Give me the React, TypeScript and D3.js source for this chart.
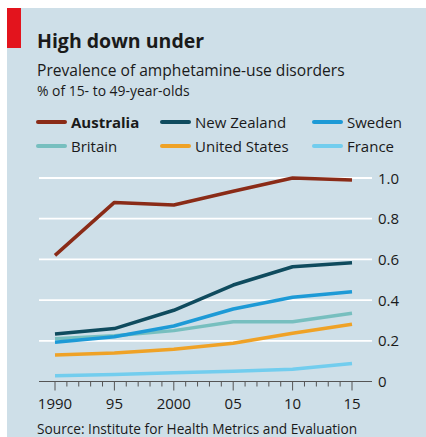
import React from "react";
import * as d3 from "d3";

const years = [1990, 1995, 2000, 2005, 2010, 2015];
const australia = [0.62, 0.88, 0.867, 0.935, 1.0, 0.99];
const newZealand = [0.233, 0.26, 0.35, 0.474, 0.564, 0.584];
const sweden = [0.193, 0.22, 0.273, 0.356, 0.414, 0.441];
const britain = [0.21, 0.225, 0.25, 0.294, 0.294, 0.335];
const unitedStates = [0.13, 0.14, 0.158, 0.188, 0.237, 0.281];
const france = [0.028, 0.035, 0.043, 0.05, 0.06, 0.089];
const yTicks = [0, 0.2, 0.4, 0.6, 0.8, 1.0];
const xTickLabels = ["1990", "95", "2000", "05", "10", "15"];

const series = [
  { name: "Australia", values: australia, color: "#8a2b17", bold: true },
  { name: "New Zealand", values: newZealand, color: "#0f4b5e", bold: false },
  { name: "Sweden", values: sweden, color: "#1d9ad6", bold: false },
  { name: "Britain", values: britain, color: "#77bfbf", bold: false },
  { name: "United States", values: unitedStates, color: "#efa226", bold: false },
  { name: "France", values: france, color: "#72cdee", bold: false },
];

const drawOrder = ["France", "United States", "Britain", "Sweden", "New Zealand", "Australia"];

export default function App() {
  const W = 426, H = 437;
  const x = d3.scaleLinear().domain([1990, 2015]).range([55, 352]);
  const y = d3.scaleLinear().domain([0, 1]).range([381.5, 178]);
  const font = "'Open Sans', sans-serif";
  const line = d3
    .line<number>()
    .x((_, i) => x(years[i]))
    .y((d) => y(d))
    .curve(d3.curveLinear);
  const allYears = d3.range(1990, 2016);
  const legendPos = [
    [38, 122], [162, 122], [314, 122],
    [38, 146], [162, 146], [314, 146],
  ];
  return (
    <svg width={W} height={H} style={{ position: "absolute", left: 0, top: 0, fontFamily: font }}>
      <rect x={0} y={0} width={W} height={H} fill="#ffffff" />
      <rect x={7} y={8} width={W - 7} height={H - 8} fill="#cedfe8" />
      <rect x={7} y={8} width={14} height={40} fill="#e3141d" />
      <text x={37} y={48} fontSize={19.5} fontWeight={700} fill="#1a1a1a">High down under</text>
      <text x={37} y={76} fontSize={15.6} fill="#1a1a1a">Prevalence of amphetamine-use disorders</text>
      <text x={37} y={96} fontSize={13.9} fill="#1a1a1a">% of 15- to 49-year-olds</text>

      {series.map((s, i) => (
        <g key={s.name}>
          <line x1={legendPos[i][0]} x2={legendPos[i][0] + 27} y1={legendPos[i][1]} y2={legendPos[i][1]} stroke={s.color} strokeWidth={4} strokeLinecap="round" />
          <text x={legendPos[i][0] + 33} y={legendPos[i][1] + 5.5} fontSize={15} fontWeight={s.bold ? 700 : 400} fill="#1a1a1a">{s.name}</text>
        </g>
      ))}

      {yTicks.filter((t) => t > 0).map((t) => (
        <line key={t} x1={39} x2={372} y1={y(t)} y2={y(t)} stroke="#ffffff" strokeWidth={1.8} />
      ))}
      {yTicks.map((t) => (
        <text key={"l" + t} x={378} y={y(t) + 5.5} fontSize={15} fill="#1a1a1a">
          {t === 0 ? "0" : d3.format(".1f")(t)}
        </text>
      ))}

      {allYears.map((yr) => (
        <line key={yr} x1={x(yr)} x2={x(yr)} y1={y(0)} y2={y(0) + (yr % 5 === 0 ? 9 : 5)} stroke="#555555" strokeWidth={1} />
      ))}
      <line x1={39} x2={372} y1={y(0)} y2={y(0)} stroke="#555555" strokeWidth={1.2} />
      {years.map((yr, i) => (
        <text key={yr} x={x(yr)} y={409} fontSize={15} textAnchor="middle" fill="#1a1a1a">{xTickLabels[i]}</text>
      ))}

      {drawOrder.map((n) => {
        const s = series.find((q) => q.name === n)!;
        return (
          <path key={n} d={line(s.values) || ""} fill="none" stroke={s.color} strokeWidth={3.5} strokeLinejoin="round" strokeLinecap="butt" />
        );
      })}

      <text x={37} y={434} fontSize={13.7} fill="#1a1a1a">Source: Institute for Health Metrics and Evaluation</text>
    </svg>
  );
}
